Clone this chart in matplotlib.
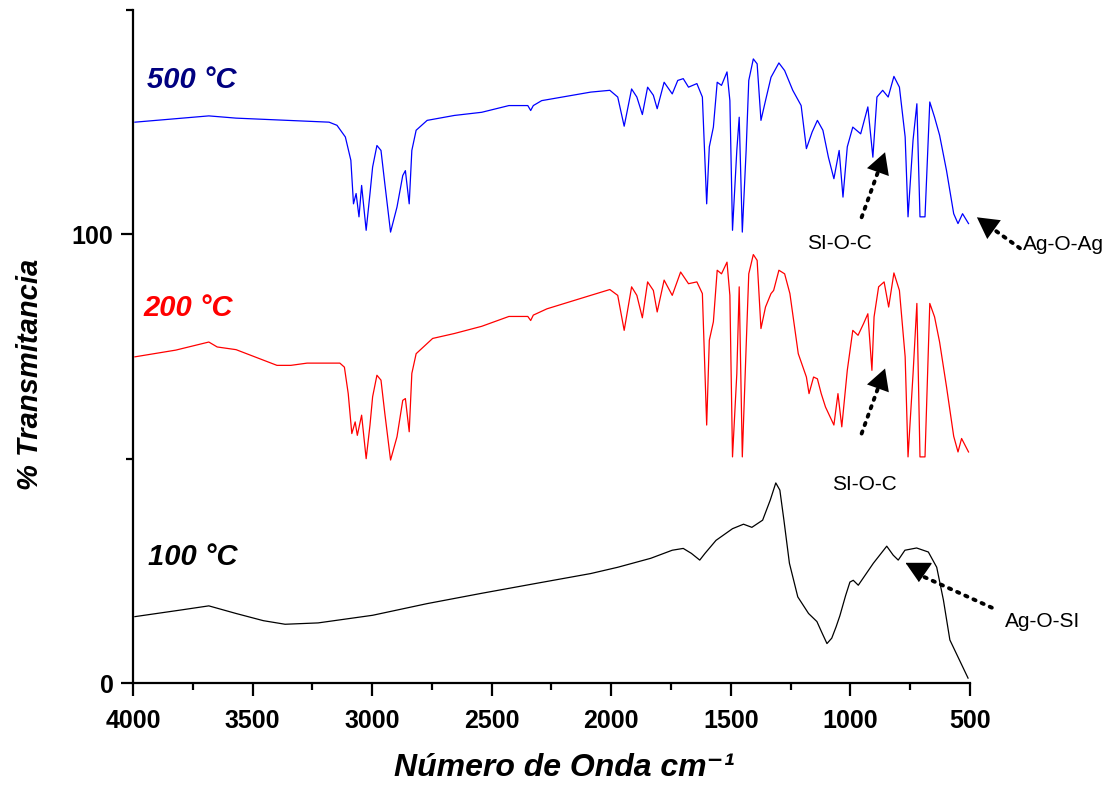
import matplotlib
matplotlib.use("Agg")
import matplotlib.pyplot as plt
from matplotlib.ticker import MultipleLocator

plt.rcParams['font.family'] = ['Liberation Sans', 'DejaVu Sans']

# ---- 500 °C spectrum (blue) ----
wn_500 = [3992, 3683, 3569, 3180, 3147, 3112, 3089, 3078, 3067, 3055, 3044, 3025,
          3009, 2998, 2980, 2963, 2947, 2923, 2896, 2872, 2861, 2845, 2834, 2816,
          2770, 2656, 2542, 2428, 2349, 2337, 2326, 2291, 2086, 2006, 1973, 1946,
          1915, 1893, 1870, 1848, 1824, 1808, 1779, 1745, 1722, 1699, 1677, 1642,
          1619, 1601, 1590, 1573, 1557, 1539, 1516, 1504, 1493, 1475, 1465, 1452,
          1436, 1425, 1406, 1390, 1374, 1355, 1332, 1299, 1275, 1241, 1206, 1184,
          1160, 1138, 1115, 1092, 1069, 1047, 1031, 1013, 990, 957, 927, 906,
          889, 865, 842, 818, 795, 771, 759, 738, 722, 709, 688, 668, 648, 627,
          598, 568, 550, 531, 506]
tr_500 = [125.0, 126.4, 125.9, 125.0, 124.3, 121.7, 116.5, 106.8, 109.1, 103.9, 110.9, 100.9,
          109.1, 115.0, 119.8, 118.7, 111.3, 100.5, 106.1, 113.1, 114.2, 106.8, 118.7, 123.2,
          125.4, 126.5, 127.2, 128.7, 128.7, 127.6, 128.7, 129.8, 131.7, 132.1, 130.6, 124.1,
          132.4, 130.6, 126.7, 132.8, 131.0, 128.0, 133.9, 131.3, 134.3, 134.7, 132.8, 133.6,
          130.6, 106.8, 119.5, 123.9, 133.9, 133.2, 136.2, 129.8, 100.9, 118.7, 126.1, 100.5,
          118.7, 134.3, 139.1, 138.0, 125.4, 129.8, 135.0, 138.2, 136.5, 132.1, 128.7, 119.1,
          122.8, 125.4, 123.2, 117.2, 112.4, 118.7, 108.3, 119.5, 123.9, 122.4, 128.4, 117.2,
          130.6, 132.1, 130.6, 135.2, 132.8, 121.7, 103.9, 121.0, 129.1, 103.9, 103.9, 129.5,
          126.1, 122.1, 114.2, 104.6, 102.4, 104.6, 102.4]

# ---- 200 °C spectrum (red) ----
wn_200 = [3992, 3821, 3683, 3648, 3569, 3398, 3340, 3272, 3135, 3116, 3100, 3085,
          3071, 3062, 3044, 3025, 3009, 2998, 2980, 2963, 2947, 2923, 2896, 2872,
          2861, 2845, 2834, 2816, 2747, 2656, 2542, 2428, 2349, 2337, 2326, 2269,
          2086, 2006, 1973, 1946, 1915, 1893, 1870, 1848, 1824, 1808, 1779, 1745,
          1710, 1677, 1642, 1619, 1601, 1590, 1573, 1557, 1539, 1516, 1504, 1493,
          1475, 1465, 1452, 1436, 1425, 1406, 1390, 1374, 1355, 1332, 1321, 1299,
          1275, 1253, 1218, 1184, 1173, 1154, 1138, 1122, 1104, 1069, 1052, 1036,
          1013, 990, 968, 945, 927, 910, 901, 882, 859, 840, 818, 795, 771, 759,
          738, 722, 709, 688, 668, 648, 627, 598, 568, 550, 535, 506]
tr_200 = [72.7, 74.2, 76.0, 74.9, 74.3, 70.8, 70.8, 71.3, 71.3, 70.4, 64.5, 55.6,
          58.2, 55.2, 59.7, 50.0, 57.5, 63.8, 68.6, 67.5, 60.1, 49.7, 54.9, 63.0,
          63.4, 56.0, 69.0, 73.4, 76.8, 77.9, 79.5, 81.7, 81.7, 80.8, 82.0, 83.4,
          86.4, 87.7, 86.4, 78.6, 88.3, 86.4, 81.4, 89.4, 87.5, 82.7, 89.8, 86.4,
          91.6, 89.0, 89.4, 86.8, 57.5, 76.4, 80.5, 92.0, 91.2, 93.8, 86.4, 50.4,
          68.9, 88.3, 50.4, 74.9, 91.2, 95.5, 94.2, 79.0, 83.8, 86.8, 87.5, 92.0,
          91.2, 86.8, 73.4, 68.2, 64.5, 68.2, 67.8, 64.5, 61.5, 57.5, 64.5, 57.1,
          69.7, 78.6, 77.5, 80.1, 82.3, 69.7, 81.6, 88.3, 89.4, 83.8, 91.4, 87.5,
          72.7, 50.4, 68.9, 84.6, 50.4, 50.4, 84.6, 81.6, 76.0, 66.0, 55.0, 51.5,
          54.5, 51.5]

# ---- 100 °C spectrum (black) ----
wn_100 = [3992, 3797, 3683, 3569, 3455, 3364, 3226, 2998, 2770, 2542, 2315, 2086,
          1973, 1835, 1745, 1699, 1665, 1630, 1608, 1562, 1493, 1447, 1412, 1367,
          1335, 1312, 1295, 1278, 1255, 1220, 1175, 1140, 1118, 1098, 1078, 1060,
          1044, 1020, 1002, 988, 967, 904, 848, 821, 800, 772, 723, 674, 639, 611,
          584, 508]
tr_100 = [14.8, 16.3, 17.2, 15.5, 13.9, 13.1, 13.4, 15.1, 17.7, 20.0, 22.2, 24.4,
          25.8, 27.8, 29.6, 30.0, 28.9, 27.4, 28.9, 31.8, 34.4, 35.4, 34.7, 36.3,
          40.8, 44.6, 43.0, 36.3, 26.7, 19.2, 15.5, 13.7, 11.1, 8.8, 10.0, 12.5,
          15.0, 19.5, 22.5, 22.9, 21.8, 26.7, 30.5, 28.5, 27.4, 29.6, 30.1, 29.2, 25.8, 18.5,
          9.6, 1.1]

series = [
    (wn_500, tr_500, '#0000ff'),
    (wn_200, tr_200, '#ff0000'),
    (wn_100, tr_100, '#000000'),
]

fig = plt.figure(figsize=(11.14, 7.87), dpi=100)
ax = fig.add_axes([0.1194, 0.1321, 0.7513, 0.8552])

for wn, tr, col in series:
    ax.plot(wn, tr, color=col, lw=0.9)

ax.set_xlim(4000, 500)
ax.set_ylim(0, 150)
ax.xaxis.set_major_locator(MultipleLocator(500))
ax.xaxis.set_minor_locator(MultipleLocator(250))
ax.yaxis.set_major_locator(MultipleLocator(100))
ax.yaxis.set_minor_locator(MultipleLocator(50))
ax.spines['top'].set_visible(False)
ax.spines['right'].set_visible(False)
ax.spines['left'].set_linewidth(1.6)
ax.spines['bottom'].set_linewidth(1.6)
ax.tick_params(which='major', length=9, width=1.6, labelsize=18)
ax.tick_params(axis='x', which='major', pad=10)
ax.tick_params(axis='y', which='major', pad=5)
ax.tick_params(which='minor', length=5, width=1.6)
for lab in ax.get_xticklabels() + ax.get_yticklabels():
    lab.set_fontweight('bold')

ax.set_xlabel('Número de Onda cm⁻¹', fontsize=23, fontweight='bold',
              fontstyle='italic', va='top')
ax.xaxis.set_label_coords(0.515, -0.104)
ax.set_ylabel('% Transmitancia', fontsize=21, fontweight='bold',
              fontstyle='italic')
ax.yaxis.set_label_coords(-0.106, 0.459)

# temperature labels
ax.text(3941, 134.5, '500 °C', color='#000080', fontsize=21, fontweight='bold',
        fontstyle='italic', va='center', ha='left')
ax.text(3958, 83.5, '200 °C', color='#ff0000', fontsize=21, fontweight='bold',
        fontstyle='italic', va='center', ha='left')
ax.text(3937, 28.1, '100 °C', color='#000000', fontsize=21, fontweight='bold',
        fontstyle='italic', va='center', ha='left')


def dotted_arrow(tip, tail):
    # dotted shaft
    ax.annotate('', xy=tip, xytext=tail, annotation_clip=False,
                arrowprops=dict(arrowstyle='-', linestyle=(0, (0.6, 1.7)), lw=2.8,
                                color='black', capstyle='round',
                                shrinkA=0, shrinkB=12))
    # solid filled head
    ax.annotate('', xy=tip, xytext=tail, annotation_clip=False,
                arrowprops=dict(arrowstyle='-|>,head_length=0.4,head_width=0.22',
                                lw=0, color='black', mutation_scale=38,
                                shrinkA=0, shrinkB=0))


# SI-O-C (500 °C)
dotted_arrow((855, 118.3), (953, 103.8))
ax.text(1044, 98.0, 'SI-O-C', fontsize=15, ha='center', va='center')
# Ag-O-Ag
dotted_arrow((471, 103.8), (291, 96.9))
ax.text(280, 97.8, 'Ag-O-Ag', fontsize=15, ha='left', va='center', clip_on=False)
# SI-O-C (200 °C)
dotted_arrow((855, 70.1), (953, 55.6))
ax.text(943, 44.3, 'SI-O-C', fontsize=15, ha='center', va='center')
# Ag-O-SI
ax.plot([690, 388], [23.6, 16.3], color='black', lw=2.8, linestyle=(0, (0.6, 1.7)),
        dash_capstyle='round', clip_on=False)
tri = [(-1.0, 0.72), (1.0, 0.72), (0.0, -0.72)]
ax.plot([717], [24.7], marker=tri, color='black', markersize=18, clip_on=False)
ax.text(195, 13.8, 'Ag-O-SI', fontsize=15, ha='center', va='center', clip_on=False)

fig.savefig('out.png', dpi=100)
